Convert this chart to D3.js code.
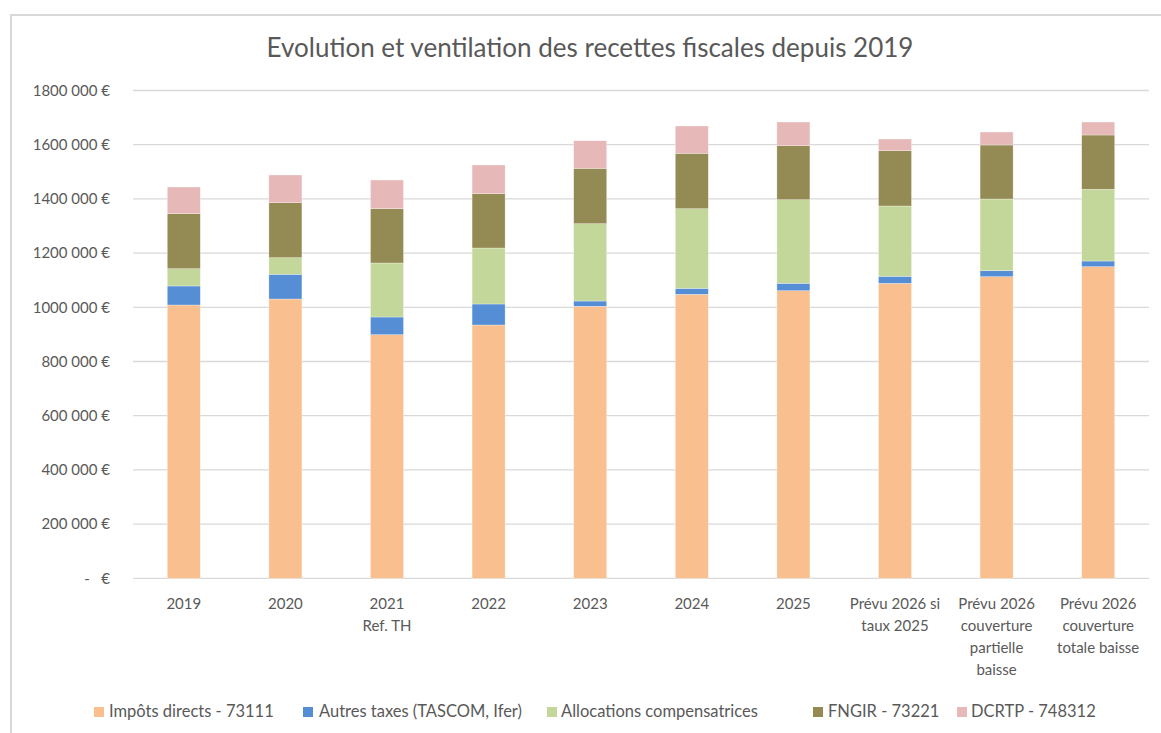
<!DOCTYPE html>
<html>
<head>
<meta charset="utf-8">
<script src="https://cdn.jsdelivr.net/npm/d3@7"></script>
<style>
  html, body { margin: 0; padding: 0; background: #fff; }
  svg { display: block; font-family: Lato, "Open Sans", sans-serif; }
</style>
</head>
<body>
<svg id="chart" width="1161" height="733"></svg>
<script>
// categories (x axis), split into lines as in the original
const categories = [
  ["2019"], ["2020"], ["2021", "Ref. TH"], ["2022"], ["2023"], ["2024"], ["2025"],
  ["Prévu 2026 si", "taux 2025"],
  ["Prévu 2026", "couverture", "partielle", "baisse"],
  ["Prévu 2026", "couverture", "totale baisse"]
];

const seriesNames = [
  "Impôts directs - 73111",
  "Autres taxes (TASCOM, Ifer)",
  "Allocations compensatrices",
  "FNGIR - 73221",
  "DCRTP - 748312"
];

// values (€)
const impotsDirects = [1008500, 1030600, 898900, 934700, 1003700, 1048000, 1061200, 1088600, 1112900, 1149800];
const autresTaxes   = [70100, 91200, 65300, 77500, 19500, 22100, 27400, 25800, 22100, 21000];
const allocations   = [63800, 61200, 199300, 206600, 285300, 293700, 308400, 259400, 264600, 264600];
const fngir         = [203000, 203000, 200300, 200400, 204400, 204500, 199300, 204000, 199300, 200400];
const dcrtp         = [98500, 102200, 105900, 105900, 101800, 100700, 87400, 43200, 47900, 47900];

const colors = ["#f9bf8f", "#558ed5", "#c4d79b", "#948a54", "#e6b8b7"];

const yTicks = [0, 200000, 400000, 600000, 800000, 1000000, 1200000, 1400000, 1600000, 1800000];
const yTickLabels = ["-   €", "200 000 €", "400 000 €", "600 000 €", "800 000 €",
                     "1000 000 €", "1200 000 €", "1400 000 €", "1600 000 €", "1800 000 €"];

// build rows for the stack
const seriesValues = [impotsDirects, autresTaxes, allocations, fngir, dcrtp];
const rows = categories.map((c, i) => {
  const r = { idx: i };
  seriesNames.forEach((s, k) => { r[s] = seriesValues[k][i]; });
  return r;
});

const svg = d3.select("#chart");
const plot = { left: 133, right: 1149, top: 90.5, bottom: 578.3 };

// chart frame
svg.append("rect")
  .attr("x", 11).attr("y", 15)
  .attr("width", 1200).attr("height", 800)
  .attr("fill", "none")
  .attr("stroke", "#d9d9d9")
  .attr("stroke-width", 2);

// title
svg.append("text")
  .attr("x", 590).attr("y", 57)
  .attr("text-anchor", "middle")
  .attr("font-size", 26)
  .attr("fill", "#595959")
  .text("Evolution et ventilation des recettes fiscales depuis 2019");

const x = d3.scaleBand()
  .domain(d3.range(categories.length))
  .range([plot.left, plot.right])
  .paddingInner(0.675)
  .paddingOuter(0.3375);

const y = d3.scaleLinear()
  .domain([0, 1800000])
  .range([plot.bottom, plot.top]);

// gridlines
svg.append("g")
  .selectAll("line")
  .data(yTicks)
  .join("line")
  .attr("x1", plot.left).attr("x2", plot.right)
  .attr("y1", d => y(d)).attr("y2", d => y(d))
  .attr("stroke", "#d9d9d9")
  .attr("stroke-width", 1.3);

// y axis labels
const yAxis = d3.axisLeft(y)
  .tickValues(yTicks)
  .tickSize(0)
  .tickPadding(0)
  .tickFormat((d, i) => yTickLabels[i]);

svg.append("g")
  .attr("transform", "translate(110,0)")
  .call(yAxis)
  .call(g => g.select(".domain").remove())
  .call(g => g.selectAll("text")
    .attr("fill", "#595959")
    .attr("font-size", 15)
    .attr("font-family", "Lato, sans-serif")
    .style("white-space", "pre"));

// stacked bars
const stack = d3.stack().keys(seriesNames);
const layers = stack(rows);

svg.append("g")
  .selectAll("g")
  .data(layers)
  .join("g")
  .attr("fill", (d, i) => colors[i])
  .selectAll("rect")
  .data(d => d)
  .join("rect")
  .attr("x", d => x(d.data.idx))
  .attr("width", x.bandwidth())
  .attr("y", d => y(d[1]))
  .attr("height", d => y(d[0]) - y(d[1]))
  .attr("stroke", "#fff")
  .attr("stroke-opacity", 0.5)
  .attr("stroke-width", 0.6);

// x axis labels
const xLab = svg.append("g")
  .selectAll("text")
  .data(categories)
  .join("text")
  .attr("x", (d, i) => x(i) + x.bandwidth() / 2)
  .attr("y", 609)
  .attr("text-anchor", "middle")
  .attr("font-size", 15)
  .attr("fill", "#595959");

xLab.selectAll("tspan")
  .data(d => d)
  .join("tspan")
  .attr("x", function () { return this.parentNode.getAttribute("x"); })
  .attr("dy", (d, i) => i === 0 ? 0 : 22)
  .text(d => d);

// legend
const legendSwatchX = [94, 303, 547, 813, 957];
const legendTextX   = [109, 319, 561, 828, 971];
const legend = svg.append("g")
  .selectAll("g")
  .data(seriesNames)
  .join("g");

legend.append("rect")
  .attr("x", (d, i) => legendSwatchX[i])
  .attr("y", 707)
  .attr("width", 10).attr("height", 10)
  .attr("fill", (d, i) => colors[i]);

legend.append("text")
  .attr("x", (d, i) => legendTextX[i])
  .attr("y", 717)
  .attr("font-size", 16.5)
  .attr("fill", "#595959")
  .text(d => d);
</script>
</body>
</html>
